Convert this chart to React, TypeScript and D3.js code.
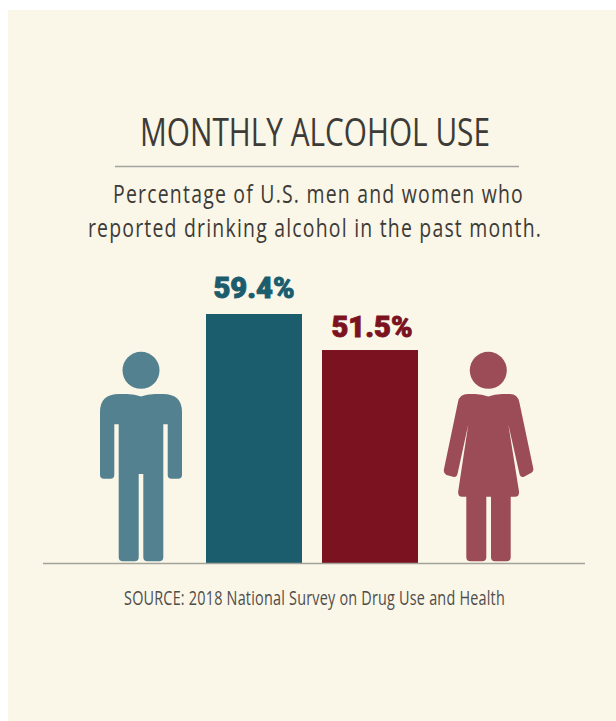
import React, { useLayoutEffect, useRef, useState } from "react";
import * as d3 from "d3";

const categories = ["Men", "Women"];
const values = [59.4, 51.5];
const valueLabels = ["59.4%", "51.5%"];
const barColors = ["#1b5c6d", "#7b1220"];
const titleText = "MONTHLY ALCOHOL USE";
const subtitleLines = ["Percentage of U.S. men and women who", "reported drinking alcohol in the past month."];
const sourceText = "SOURCE: 2018 National Survey on Drug Use and Health";

const narrow = "'Open Sans', sans-serif";

const manPath =
  "M100,412 Q100,394 119,394 L127,394 Q135,394 141,396.5 Q147,394 155,394 L163,394 Q182,394 182,412 L182,475 Q182,478.7 178,478.7 L171.5,478.7 Q167.7,478.7 167.7,475 L167.7,424.3 L163.3,424.3 L163.3,557 Q163.3,561.3 159,561.3 L147.5,561.3 Q143.3,561.3 143.3,557 L143.3,474 L138.7,474 L138.7,557 Q138.7,561.3 134.5,561.3 L123,561.3 Q118.7,561.3 118.7,557 L118.7,424.3 L114.3,424.3 L114.3,475 Q114.3,478.7 110.5,478.7 L104,478.7 Q100,478.7 100,475 Z";

const womanPath =
  "M458,402 Q459.5,394 468,394 L475,394 Q482,394 488.3,396.5 Q494.5,394 502,394 L510,394 Q517.5,394 519.3,402 L533.2,468 Q534,472 530,473.5 L524,476.8 Q520.5,477.8 519.5,474 L508.3,424.3 L519,491.5 Q519.5,496.7 515,496.7 L510.7,496.7 L510.7,557 Q510.7,561.3 506.5,561.3 L495,561.3 Q491,561.3 491,557 L491,496.7 L486.3,496.7 L486.3,557 Q486.3,561.3 482,561.3 L470.5,561.3 Q466.3,561.3 466.3,557 L466.3,496.7 L462,496.7 Q457.7,496.7 458.2,491.5 L468.3,424.3 L457.5,474 Q456.5,477.8 453,476.8 L446.5,475 Q443,473.5 444,469 Z";

type FitProps = {
  cx: number;
  y: number;
  width: number;
  size: number;
  fill: string;
  family: string;
  weight?: number;
  spacing?: number;
  strokeW?: number;
  children: string;
};

// Text squeezed horizontally to a measured width, standing in for a condensed face.
function FitText({ cx, y, width, size, fill, family, weight = 400, spacing = 0, strokeW = 0, children }: FitProps) {
  const ref = useRef<SVGTextElement>(null);
  const [sx, setSx] = useState(0.75);
  useLayoutEffect(() => {
    if (ref.current) setSx(width / ref.current.getComputedTextLength());
  }, [width, children]);
  return (
    <text
      ref={ref}
      transform={`translate(${cx},${y}) scale(${sx},1)`}
      textAnchor="middle"
      fontFamily={family}
      fontWeight={weight}
      fontSize={size}
      letterSpacing={spacing}
      fill={fill}
      stroke={strokeW ? fill : "none"}
      strokeWidth={strokeW}
    >
      {children}
    </text>
  );
}

export default function App() {
  const x = d3.scaleBand<string>().domain(categories).range([196, 428]).paddingInner(20 / 116).paddingOuter(10 / 116);
  const y = d3.scaleLinear().domain([4.8, 59.4]).range([563, 314]);
  const centers = categories.map((c) => (x(c) as number) + x.bandwidth() / 2);
  const labelDx = [0, 2];
  const labelGap = [15.7, 13.5];

  return (
    <svg
      width={616}
      height={721}
      viewBox="0 0 616 721"
      style={{ position: "absolute", left: 0, top: 0, display: "block" }}
    >
      <rect x={0} y={0} width={616} height={721} fill="#ffffff" />
      <rect x={8} y={10} width={608} height={711} fill="#faf6e8" />

      <FitText cx={315} y={146} width={350} size={38.5} fill="#3d3b37" family={narrow}>
        {titleText}
      </FitText>
      <line x1={115} x2={519} y1={166.5} y2={166.5} stroke="#a3a39e" strokeWidth={1.4} />
      <FitText cx={318.5} y={203} width={411} size={25.6} fill="#3d3b37" family={narrow} spacing={1.6}>
        {subtitleLines[0]}
      </FitText>
      <FitText cx={315} y={237} width={454} size={25.6} fill="#3d3b37" family={narrow} spacing={1.6}>
        {subtitleLines[1]}
      </FitText>

      <circle cx={141} cy={370.3} r={18.5} fill="#53818f" />
      <path d={manPath} fill="#53818f" />
      <circle cx={488.3} cy={370.3} r={18.5} fill="#9c4c57" />
      <path d={womanPath} fill="#9c4c57" />

      {categories.map((c, i) => (
        <g key={c}>
          <rect x={x(c)} y={y(values[i])} width={x.bandwidth()} height={563 - y(values[i])} fill={barColors[i]} />
          <FitText
            cx={centers[i] + labelDx[i]}
            y={y(values[i]) - labelGap[i]}
            width={81}
            size={29.5}
            fill={barColors[i]}
            family="Roboto, sans-serif"
            weight={900}
            strokeW={0.9}
          >
            {valueLabels[i]}
          </FitText>
        </g>
      ))}

      <line x1={43} x2={585} y1={563.5} y2={563.5} stroke="#a3a39c" strokeWidth={1.4} />
      <FitText cx={314.5} y={605} width={381} size={19.5} fill="#4f4d4a" family={narrow} spacing={0.3}>
        {sourceText}
      </FitText>
    </svg>
  );
}
